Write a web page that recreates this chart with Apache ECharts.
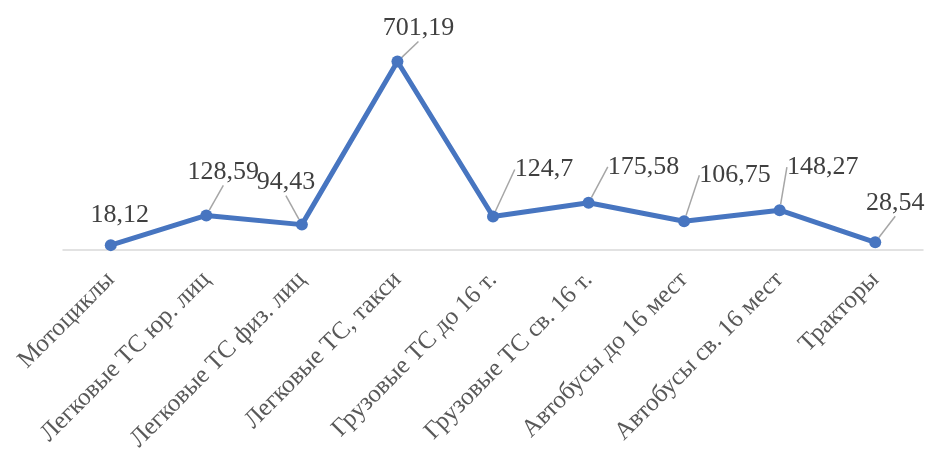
<!DOCTYPE html>
<html>
<head>
<meta charset="utf-8">
<script src="https://cdn.jsdelivr.net/npm/echarts@6/dist/echarts.min.js"></script>
<style>
    html, body { margin: 0; padding: 0; background: #fff; }
    #chart { width: 931px; height: 459px; }
</style>
</head>
<body>
<div id="chart"></div>
<script>
// категории и значения
const categories = [
    'Мотоциклы',
    'Легковые ТС юр. лиц',
    'Легковые ТС физ. лиц',
    'Легковые ТС, такси',
    'Грузовые ТС до 16 т.',
    'Грузовые ТС св. 16 т.',
    'Автобусы до 16 мест',
    'Автобусы св. 16 мест',
    'Тракторы'
];
const values = [18.12, 128.59, 94.43, 701.19, 124.7, 175.58, 106.75, 148.27, 28.54];

// смещения подписей от точки (dx, dy)
const labelShift = [[9, -30], [17, -43], [-16, -42], [21, -33], [51, -47], [55, -36], [51, -46], [43, -43], [20, -39]];

const fmt = v => String(v).replace('.', ',');

const myChart = echarts.init(document.getElementById('chart'));

const option = {
    animation: false,
    grid: {
        left: 63,
        right: 8,
        top: 35,
        bottom: 209
    },
    xAxis: {
        type: 'category',
        data: categories,
        axisLine: { lineStyle: { color: '#d9d9d9', width: 1.5 } },
        axisTick: { show: false },
        axisLabel: {
            interval: 0,
            rotate: 45,
            margin: 26,
            color: '#595959',
            fontFamily: 'Liberation Serif',
            fontSize: 25
        }
    },
    yAxis: {
        type: 'value',
        min: 0,
        max: 800,
        show: false
    },
    series: [
        {
            type: 'line',
            data: values.map((v, i) => ({
                value: v,
                labelLine: { show: i !== 0 }
            })),
            symbol: 'circle',
            symbolSize: 12,
            lineStyle: { color: '#4775c0', width: 5 },
            itemStyle: { color: '#4775c0' },
            label: {
                show: true,
                position: 'inside',
                align: 'center',
                verticalAlign: 'middle',
                formatter: p => fmt(p.value),
                color: '#404040',
                fontFamily: 'Liberation Serif',
                fontSize: 26
            },
            labelLine: {
                show: true,
                lineStyle: { color: '#a6a6a6', width: 1.5 }
            },
            labelLayout: params => ({
                dx: labelShift[params.dataIndex][0],
                dy: labelShift[params.dataIndex][1]
            })
        }
    ]
};

myChart.setOption(option);
</script>
</body>
</html>
